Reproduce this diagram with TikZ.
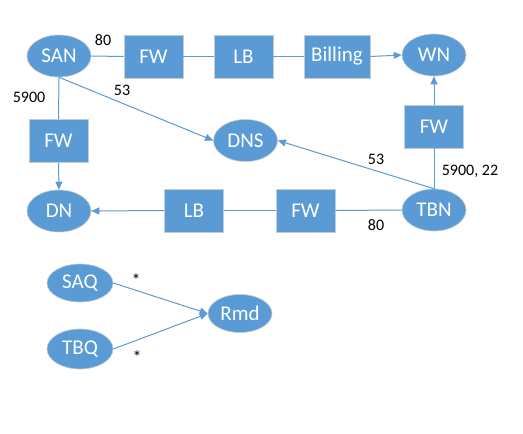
\documentclass[tikz,border=0pt]{standalone}
\usepackage{fontspec}
\setmainfont{Carlito}
\usetikzlibrary{shapes.geometric,arrows.meta}
\definecolor{myblue}{HTML}{5B9BD5}
\definecolor{edgegrey}{HTML}{C3CBD3}
\tikzset{
  boxnode/.style={rectangle, fill=myblue, draw=edgegrey, line width=0.8pt, minimum width=59pt, minimum height=43pt, inner sep=0pt, text=white, font=\fontsize{21}{25}\selectfont},
  ellnode/.style={ellipse, fill=myblue, draw=edgegrey, line width=0.6pt, minimum width=64pt, minimum height=42pt, inner sep=0pt, text=white, font=\fontsize{21}{25}\selectfont},
  conn/.style={draw=myblue, line width=1pt},
  arr/.style={conn, -{Triangle[length=8pt,width=7pt]}},
  lbl/.style={font=\fontsize{16}{19}\selectfont, text=black, inner sep=0pt}
}
\begin{document}
\begin{tikzpicture}[x=1pt,y=-1pt]
\useasboundingbox[fill=white] (0,0) rectangle (523,434);
\node[ellnode] (SAN) at (59,56) {SAN};
\node[boxnode] (FW1) at (153.5,56.5) {FW};
\node[boxnode] (LB1) at (243.5,56.5) {LB};
\node[boxnode, minimum width=66pt] (BIL) at (337,56.5) {Billing};
\node[ellnode] (WN) at (434,55) {WN};
\node[boxnode] (FWL) at (58.5,141) {FW};
\node[ellnode] (DNS) at (245.5,140.5) {DNS};
\node[boxnode] (FWR) at (434,126.5) {FW};
\node[ellnode] (DN) at (59,211) {DN};
\node[boxnode] (LBB) at (194,210.5) {LB};
\node[boxnode] (FWB) at (305.5,210.5) {FW};
\node[ellnode] (TBN) at (434,210) {TBN};
\node[ellnode, minimum width=66pt, minimum height=38pt] (SAQ) at (80,283) {SAQ};
\node[ellnode, minimum width=66pt, minimum height=40pt] (TBQ) at (80,349) {TBQ};
\node[ellnode, minimum width=64pt, minimum height=38pt] (RMD) at (240,313.5) {Rmd};

\draw[conn] (SAN.east) -- (FW1.west);
\draw[conn] (FW1.east) -- (LB1.west);
\draw[conn] (LB1.east) -- (BIL.west);
\draw[arr] (BIL.east) -- (WN.west);
\draw[conn] (SAN.south) -- (FWL.north);
\draw[arr] (FWL.south) -- (DN.north);
\draw[arr] (SAN.south) -- (DNS.west);
\draw[conn] (TBN.north) -- (FWR.south);
\draw[arr] (FWR.north) -- (WN.south);
\draw[arr] (TBN.north) -- (DNS.east);
\draw[conn] (TBN.west) -- (FWB.east);
\draw[conn] (FWB.west) -- (LBB.east);
\draw[arr] (LBB.west) -- (DN.east);
\draw[arr] (SAQ.east) -- (RMD.west);
\draw[arr] (TBQ.east) -- (RMD.west);

\node[lbl] (l80a) at (103,40) {80};
\node[lbl] (l5900) at (29,97) {5900};
\node[lbl] (l53a) at (122,90) {53};
\node[lbl] (l53b) at (376,159) {53};
\node[lbl] (l5922) at (470,171) {5900, 22};
\node[lbl] (l80b) at (376,225) {80};
\node[lbl, font=\fontsize{18}{20}\selectfont] (st1) at (136,280) {*};
\node[lbl, font=\fontsize{18}{20}\selectfont] (st2) at (137,357) {*};
\end{tikzpicture}
\end{document}
